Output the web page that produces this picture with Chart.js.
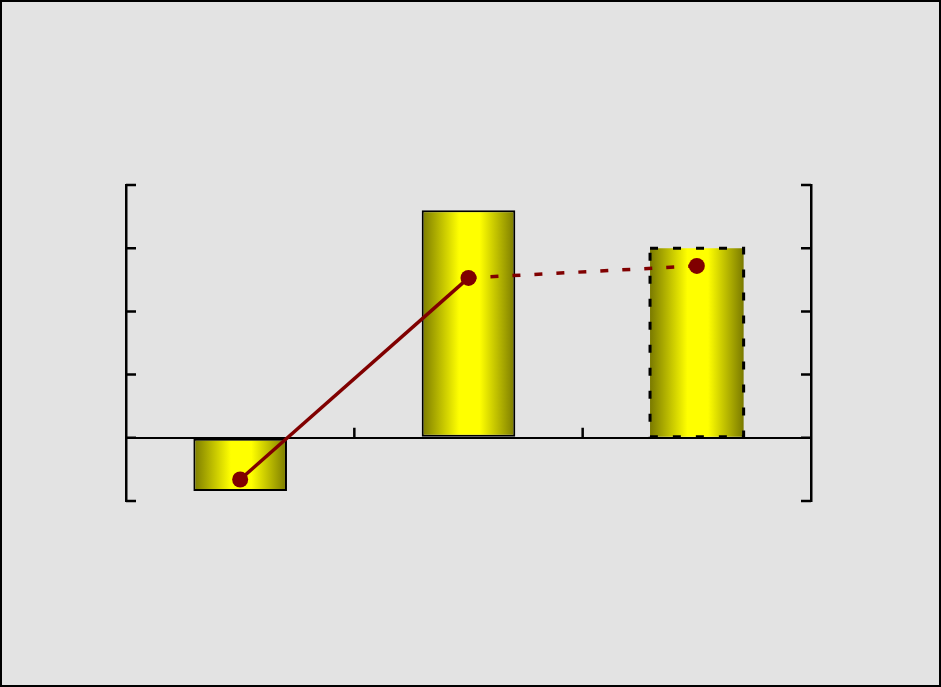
<!DOCTYPE html>
<html>
<head>
<meta charset="utf-8">
<script src="https://cdn.jsdelivr.net/npm/chart.js@4.4.1/dist/chart.umd.min.js"></script>
<style>
  html, body { margin: 0; padding: 0; background: #e3e3e3; }
  #frame {
    width: 941px;
    height: 687px;
    box-sizing: border-box;
    border: 2px solid #000;
    background: #e3e3e3;
  }
  #box { width: 937px; height: 683px; position: relative; }
</style>
</head>
<body>
<div id="frame"><div id="box"><canvas id="chart"></canvas></div></div>
<script>
const categories = ['A', 'B', 'C'];
const barValues = [-0.84, 3.6, 3.0];
const lineValues = [-0.66, 2.53, 2.72];
const yTickValues = [-1, 0, 1, 2, 3, 4];

const TICK_LEN = 10;
const BAR_FRACTION = 0.41;

function barGradient(ctx) {
  const chart = ctx.chart;
  const xs = chart.scales.x;
  if (!xs || ctx.dataIndex === undefined) {
    return '#ffff00';
  }
  const cx = xs.getPixelForValue(ctx.dataIndex);
  const half = (xs.width / categories.length) * BAR_FRACTION / 2;
  if (!isFinite(cx) || !isFinite(half) || half <= 0) {
    return '#ffff00';
  }
  const g = chart.ctx.createLinearGradient(cx - half, 0, cx + half, 0);
  g.addColorStop(0, '#7a7a00');
  g.addColorStop(0.4, '#ffff00');
  g.addColorStop(0.62, '#ffff00');
  g.addColorStop(1, '#7a7a00');
  return g;
}

// ticks pointing into the plot, and the dashed outline of the last bar
const decorations = {
  id: 'decorations',
  afterDatasetsDraw(chart) {
    const ctx = chart.ctx;
    const meta = chart.getDatasetMeta(1);
    const bar = meta.data[2];
    if (!bar) return;
    const left = bar.x - bar.width / 2;
    const right = bar.x + bar.width / 2;
    const top = Math.min(bar.y, bar.base);
    const bottom = Math.max(bar.y, bar.base);
    ctx.save();
    ctx.strokeStyle = '#000';
    ctx.lineWidth = 3;
    ctx.setLineDash([8, 15]);
    ctx.strokeRect(left, top, right - left, bottom - top);
    ctx.restore();
  },
  afterDraw(chart) {
    const ctx = chart.ctx;
    const area = chart.chartArea;
    const ys = chart.scales.y;
    const xs = chart.scales.x;
    ctx.save();
    ctx.strokeStyle = '#000';
    ctx.lineWidth = 2.5;
    ctx.beginPath();
    yTickValues.forEach((v) => {
      const py = ys.getPixelForValue(v);
      ctx.moveTo(area.left, py);
      ctx.lineTo(area.left + TICK_LEN, py);
      ctx.moveTo(area.right, py);
      ctx.lineTo(area.right - TICK_LEN, py);
    });
    const zeroY = ys.getPixelForValue(0);
    for (let i = 0; i < categories.length - 1; i++) {
      const px = (xs.getPixelForValue(i) + xs.getPixelForValue(i + 1)) / 2;
      ctx.moveTo(px, zeroY);
      ctx.lineTo(px, zeroY - TICK_LEN);
    }
    ctx.stroke();
    ctx.restore();
  },
};

new Chart(document.getElementById('chart'), {
  data: {
    labels: categories,
    datasets: [
      {
        type: 'line',
        data: lineValues,
        order: 0,
        borderColor: '#800000',
        backgroundColor: '#800000',
        borderWidth: 3.5,
        pointRadius: 8,
        pointHoverRadius: 8,
        pointBorderWidth: 0,
        tension: 0,
        segment: {
          borderDash: (ctx) => (ctx.p0DataIndex === 1 ? [8, 14] : undefined),
        },
      },
      {
        type: 'bar',
        data: barValues,
        order: 1,
        backgroundColor: barGradient,
        borderColor: ['#000', '#000', 'rgba(0,0,0,0)'],
        borderWidth: [2, 2, 0],
        borderSkipped: false,
        categoryPercentage: 1,
        barPercentage: BAR_FRACTION,
      },
    ],
  },
  options: {
    responsive: true,
    maintainAspectRatio: false,
    animation: false,
    layout: {
      padding: { left: 124, right: 128, top: 183, bottom: 184 },
    },
    plugins: {
      legend: { display: false },
      tooltip: { enabled: false },
    },
    scales: {
      x: {
        display: false,
        offset: true,
      },
      y: {
        position: 'left',
        min: -1,
        max: 4,
        ticks: { display: false, stepSize: 1 },
        grid: {
          drawTicks: false,
          lineWidth: 2,
          color: (ctx) => (ctx.tick && ctx.tick.value === 0 ? '#000' : 'rgba(0,0,0,0)'),
        },
        border: { display: true, color: '#000', width: 2.5 },
      },
      y2: {
        position: 'right',
        min: -1,
        max: 4,
        ticks: { display: false, stepSize: 1 },
        grid: { drawTicks: false, drawOnChartArea: false },
        border: { display: true, color: '#000', width: 2.5 },
      },
    },
  },
  plugins: [decorations],
});
</script>
</body>
</html>
